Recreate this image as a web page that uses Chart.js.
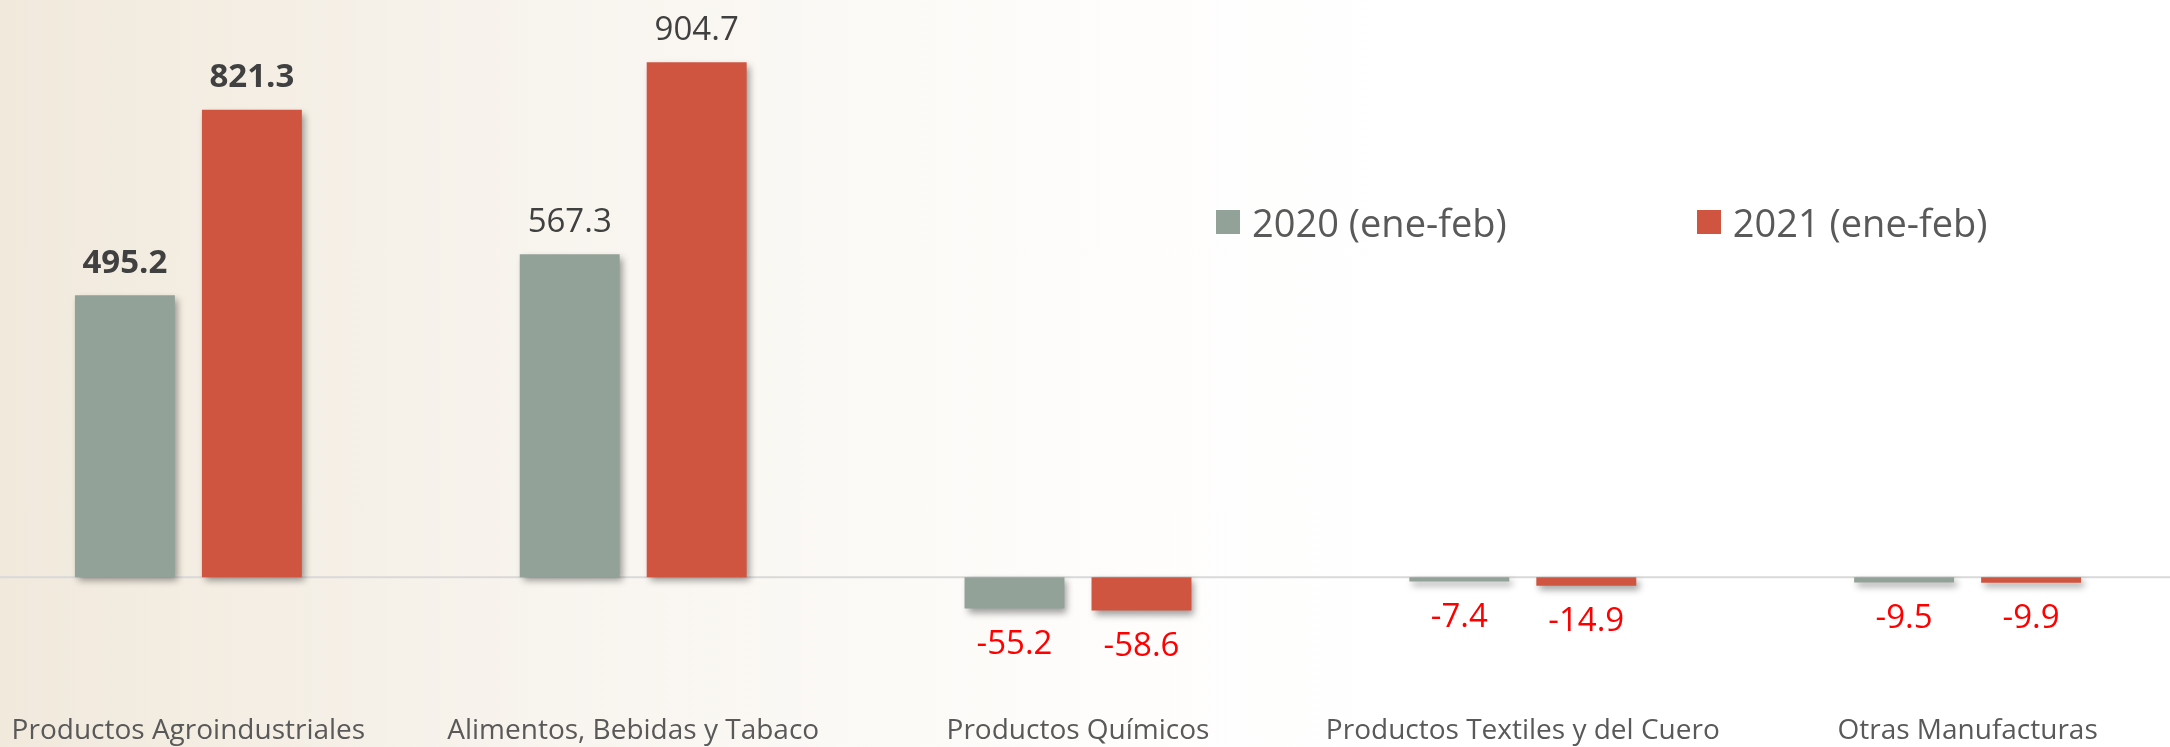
<!DOCTYPE html>
<html>
<head>
<meta charset="utf-8">
<script src="https://cdn.jsdelivr.net/npm/chart.js@4/dist/chart.umd.min.js"></script>
<style>
    html, body {
        margin: 0;
        padding: 0;
        width: 2170px;
        height: 747px;
        overflow: hidden;
        font-family: 'Open Sans', sans-serif;
        background: linear-gradient(90deg, #f1e9dc 0%, #f4eee4 12%, #f8f4ee 25%, #fbf9f5 38%, #fefdfc 52%, #ffffff 65%);
    }
    #wrap {
        position: absolute;
        left: -34px;
        top: 0;
        width: 2224px;
        height: 747px;
    }
    #legend {
        position: absolute;
        left: 1216px;
        top: 199px;
        display: flex;
        gap: 190px;
        color: #595959;
        font-size: 38px;
        line-height: 46px;
    }
    .item { display: flex; align-items: center; }
    .box { width: 24px; height: 24px; margin-right: 12px; }
</style>
</head>
<body>
<div id="wrap"><canvas id="chart"></canvas></div>
<div id="legend"></div>
<script>
// Data
const categories = [
    'Productos Agroindustriales',
    'Alimentos, Bebidas y Tabaco',
    'Productos Químicos',
    'Productos Textiles y del Cuero',
    'Otras Manufacturas'
];
const seriesNames = ['2020 (ene-feb)', '2021 (ene-feb)'];
const values2020 = [495.2, 567.3, -55.2, -7.4, -9.5];
const values2021 = [821.3, 904.7, -58.6, -14.9, -9.9];

const GRAY = '#93a299';
const RED = '#cf5540';

// zero line + bar shadows
const shadowPlugin = {
    id: 'shadowPlugin',
    beforeDatasetsDraw(chart) {
        const ctx = chart.ctx;
        const area = chart.chartArea;
        const y0 = chart.scales.y.getPixelForValue(0);
        ctx.save();
        ctx.strokeStyle = '#d9d9d9';
        ctx.lineWidth = 2;
        ctx.beginPath();
        ctx.moveTo(area.left, y0);
        ctx.lineTo(area.right, y0);
        ctx.stroke();
        ctx.restore();

        ctx.save();
        ctx.shadowColor = 'rgba(0, 0, 0, 0.38)';
        ctx.shadowBlur = 7;
        ctx.shadowOffsetX = 3;
        ctx.shadowOffsetY = 4;
    },
    afterDatasetsDraw(chart) {
        chart.ctx.restore();
    }
};

// value labels at the bar ends
const valueLabels = {
    id: 'valueLabels',
    afterDatasetsDraw(chart) {
        const ctx = chart.ctx;
        ctx.save();
        ctx.textAlign = 'center';
        ctx.textBaseline = 'middle';
        chart.data.datasets.forEach((ds, i) => {
            const meta = chart.getDatasetMeta(i);
            meta.data.forEach((bar, j) => {
                const v = ds.data[j];
                const weight = j === 0 ? 'bold ' : '';
                ctx.font = weight + '33px "Open Sans"';
                ctx.fillStyle = v < 0 ? '#ff0000' : '#404040';
                const y = v < 0 ? bar.y + 36 : bar.y - 32;
                ctx.fillText(v.toFixed(1), bar.x, y);
            });
        });
        ctx.restore();
    }
};

const chart = new Chart(document.getElementById('chart'), {
    type: 'bar',
    data: {
        labels: categories,
        datasets: [
            { label: seriesNames[0], data: values2020, backgroundColor: GRAY },
            { label: seriesNames[1], data: values2021, backgroundColor: RED }
        ]
    },
    options: {
        responsive: true,
        maintainAspectRatio: false,
        animation: false,
        categoryPercentage: 0.571,
        barPercentage: 0.787,
        layout: { padding: { top: 8, left: 0, right: 0, bottom: 0 } },
        scales: {
            x: {
                grid: { display: false },
                border: { display: false },
                ticks: {
                    color: '#595959',
                    font: { family: 'Open Sans', size: 28 },
                    padding: 15,
                    maxRotation: 0,
                    autoSkip: false
                },
                afterFit: (scale) => { scale.height = 56; }
            },
            y: {
                display: false,
                min: -200,
                max: 1000
            }
        },
        plugins: {
            legend: { display: false },
            tooltip: { enabled: false }
        }
    },
    plugins: [shadowPlugin, valueLabels]
});

// HTML legend
const legendEl = document.getElementById('legend');
chart.data.datasets.forEach(ds => {
    const item = document.createElement('div');
    item.className = 'item';
    item.innerHTML = `<span class="box" style="background:${ds.backgroundColor}"></span><span>${ds.label}</span>`;
    legendEl.appendChild(item);
});
</script>
</body>
</html>
